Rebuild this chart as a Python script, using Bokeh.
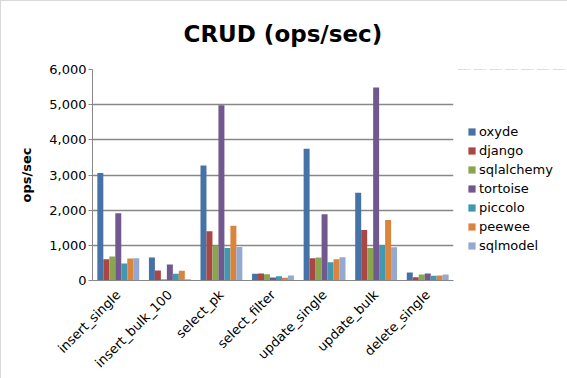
from math import pi
from bokeh.plotting import figure
from bokeh.models import (ColumnDataSource, FactorRange, NumeralTickFormatter, Legend, LegendItem,
                          FixedTicker, Title, Range1d)
from bokeh.layouts import row
from bokeh.transform import dodge
from bokeh.embed import file_html
from bokeh.resources import INLINE

categories = ["insert_single", "insert_bulk_100", "select_pk", "select_filter",
              "update_single", "update_bulk", "delete_single"]
series_names = ["oxyde", "django", "sqlalchemy", "tortoise", "piccolo", "peewee", "sqlmodel"]
oxyde = [3060, 652, 3270, 189, 3743, 2495, 227]
django = [605, 284, 1399, 198, 633, 1437, 95]
sqlalchemy = [680, 38, 983, 180, 652, 926, 170]
tortoise = [1909, 454, 4981, 85, 1881, 5491, 198]
piccolo = [482, 189, 926, 123, 520, 992, 132]
peewee = [624, 274, 1560, 75, 605, 1720, 142]
sqlmodel = [633, 38, 955, 141, 662, 945, 170]
y_ticks = [0, 1000, 2000, 3000, 4000, 5000, 6000]

colors = ["#4572A7", "#AA4643", "#89A54E", "#71588F", "#4198AF", "#DB843D", "#93A9CF"]
series_values = [oxyde, django, sqlalchemy, tortoise, piccolo, peewee, sqlmodel]

data = {"cat": categories}
for name, vals in zip(series_names, series_values):
    data[name] = vals
source = ColumnDataSource(data)

FONT = "DejaVu Sans"
H = 377
MAIN_W, LEG_W = 455, 111
LEFT, RIGHT, TOP, BOTTOM = 91, 3, 68, 97

p = figure(x_range=FactorRange(factors=categories, range_padding=0), y_range=(0, 6000),
           width=MAIN_W, height=H, output_backend="svg", toolbar_location=None,
           min_border_left=LEFT, min_border_right=RIGHT, min_border_top=TOP, min_border_bottom=BOTTOM)
p.title_location = None

spacer = Title(text=" ", text_font_size="6px")
main_title = Title(text="CRUD (ops/sec)", text_font=FONT, text_font_size="23px",
                   text_font_style="bold", align="left", offset=91, text_color="#000000")
p.add_layout(spacer, "above")
p.add_layout(main_title, "above")

bw = 0.116
for j, (name, col) in enumerate(zip(series_names, colors)):
    p.vbar(x=dodge("cat", (j - 3) * bw, range=p.x_range), top=name, width=bw,
           source=source, fill_color=col, line_color=None)

p.outline_line_color = None
p.xgrid.grid_line_color = None
p.ygrid.grid_line_color = "#878787"
p.ygrid.grid_line_width = 1.3

p.yaxis.ticker = FixedTicker(ticks=y_ticks)
p.yaxis.formatter = NumeralTickFormatter(format="0,0")
p.yaxis.minor_tick_line_color = None
p.yaxis.major_tick_out = 4
p.yaxis.major_tick_in = 0
p.yaxis.major_tick_line_color = "#878787"
p.yaxis.axis_line_color = "#878787"
p.yaxis.major_label_standoff = 2
p.yaxis.axis_label = "ops/sec"
p.yaxis.axis_label_text_font = FONT
p.yaxis.axis_label_text_font_style = "bold"
p.yaxis.axis_label_text_font_size = "13px"
p.yaxis.axis_label_standoff = 12

p.xaxis.major_tick_line_color = None
p.xaxis.minor_tick_line_color = None
p.xaxis.axis_line_color = "#878787"
p.xaxis.major_label_orientation = pi / 4
p.xaxis.major_label_standoff = 6

for ax in (p.xaxis, p.yaxis):
    ax.major_label_text_font = FONT
    ax.major_label_text_font_size = "13px"
    ax.major_label_text_color = "#000000"
    ax.axis_label_text_color = "#000000"

# legend panel: a separate figure (its frame is aligned with the main frame),
# so the legend is not clipped; its bars lie outside its visible y range
lp = figure(width=LEG_W, height=H, output_backend="svg", toolbar_location=None,
            x_range=FactorRange(factors=categories), y_range=Range1d(-2, -1),
            x_axis_type=None, y_axis_type=None, min_border=0)
lp.grid.visible = False
lp.outline_line_color = None
items = []
for j, (name, col) in enumerate(zip(series_names, colors)):
    r = lp.vbar(x=dodge("cat", (j - 3) * bw, range=lp.x_range), top=name, width=bw,
                source=source, fill_color=col, line_color=None)
    items.append(LegendItem(label=name, renderers=[r]))

legend = Legend(items=items, location=(11, 27), padding=0, margin=0, spacing=4,
                glyph_width=9, glyph_height=9, label_standoff=3,
                label_text_font=FONT, label_text_font_size="13px", label_text_color="#000000",
                border_line_color=None, background_fill_alpha=0)
lp.add_layout(legend)

layout = row(p, lp)
layout.styles = {"border": "1px solid #d9d9d9"}

open("out.html", "w").write(file_html(layout, INLINE))
